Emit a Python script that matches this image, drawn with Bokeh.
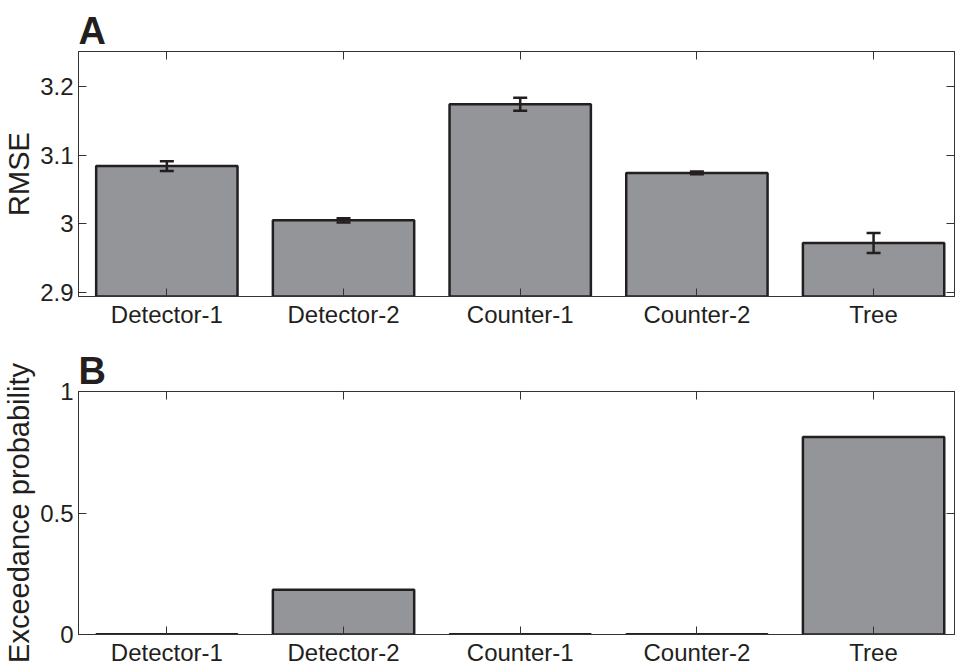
from bokeh.plotting import figure
from bokeh.models import (ColumnDataSource, Range1d, FixedTicker, LinearAxis,
                          Whisker, TeeHead)
from bokeh.layouts import column
from bokeh.embed import file_html
from bokeh.resources import INLINE

categories = ["Detector-1", "Detector-2", "Counter-1", "Counter-2", "Tree"]
rmse = [3.084, 3.005, 3.174, 3.074, 2.972]
rmse_err = [0.007, 0.003, 0.0095, 0.002, 0.0145]
exceedance = [0.0015, 0.184, 0.0015, 0.0015, 0.813]
rmse_ticks = [2.9, 3.0, 3.1, 3.2]
rmse_tick_labels = ["2.9", "3", "3.1", "3.2"]
exc_ticks = [0, 0.5, 1]
exc_tick_labels = ["0", "0.5", "1"]

FONT = "Liberation Sans"
DARK = "#231f20"
FILL = "#939598"
AXC = "#333333"

xpos = list(range(1, len(categories) + 1))


def plain_axis(ticks):
    return LinearAxis(ticker=FixedTicker(ticks=ticks),
                      major_label_overrides={t: "" for t in ticks},
                      major_label_text_font_size="1px", major_label_standoff=0,
                      major_tick_in=8, major_tick_out=0, minor_tick_line_color=None,
                      axis_line_color=AXC, major_tick_line_color=AXC)


def style_axes(p, yticks, ylabels, ylabel, panel_letter):
    p.xaxis.ticker = FixedTicker(ticks=xpos)
    p.xaxis.major_label_overrides = {x: c for x, c in zip(xpos, categories)}
    p.yaxis.ticker = FixedTicker(ticks=yticks)
    p.yaxis.major_label_overrides = {t: l for t, l in zip(yticks, ylabels)}
    for ax in (p.xaxis[0], p.yaxis[0]):
        ax.major_tick_in = 8
        ax.major_tick_out = 0
        ax.minor_tick_line_color = None
        ax.axis_line_color = AXC
        ax.major_tick_line_color = AXC
        ax.major_label_text_font = FONT
        ax.major_label_text_font_size = "24px"
        ax.major_label_text_color = DARK
    p.xaxis.major_label_standoff = 4
    p.yaxis.major_label_standoff = 5
    p.yaxis.axis_label = ylabel
    p.yaxis.axis_label_text_font = FONT
    p.yaxis.axis_label_text_font_size = "29px"
    p.yaxis.axis_label_text_font_style = "normal"
    p.yaxis.axis_label_text_color = DARK
    p.yaxis.axis_label_standoff = 2
    p.add_layout(plain_axis(xpos), "above")
    p.add_layout(plain_axis(yticks), "right")
    p.xgrid.grid_line_color = None
    p.ygrid.grid_line_color = None
    p.outline_line_color = AXC
    p.title.text = panel_letter
    p.title.align = "left"
    p.title.text_font = FONT
    p.title.text_font_size = "38px"
    p.title.text_font_style = "bold"
    p.title.text_color = DARK
    p.title.standoff = 0
    p.title.offset = 0


XR = (0.5, 5.458)

# Panel A
srcA = ColumnDataSource(dict(x=xpos, top=rmse,
                             upper=[v + e for v, e in zip(rmse, rmse_err)],
                             lower=[v - e for v, e in zip(rmse, rmse_err)]))
pA = figure(width=955, height=340, output_backend="svg", toolbar_location=None,
            x_range=Range1d(*XR), y_range=Range1d(2.894, 3.251),
            min_border_left=73, min_border_top=51, min_border_bottom=44, min_border_right=1)
pA.vbar(x="x", top="top", bottom=2.894, width=0.8, source=srcA,
        fill_color=FILL, line_color=DARK, line_width=2.5)
pA.add_layout(Whisker(base="x", upper="upper", lower="lower", source=srcA,
                      line_color=DARK, line_width=2.5, level="annotation",
                      upper_head=TeeHead(size=14, line_color=DARK, line_width=2.5),
                      lower_head=TeeHead(size=14, line_color=DARK, line_width=2.5)))
style_axes(pA, rmse_ticks, rmse_tick_labels, "RMSE", "A")

# Panel B
srcB = ColumnDataSource(dict(x=xpos, top=exceedance))
pB = figure(width=955, height=328, output_backend="svg", toolbar_location=None,
            x_range=Range1d(*XR), y_range=Range1d(0, 1),
            min_border_left=73, min_border_top=51, min_border_bottom=33, min_border_right=1)
pB.vbar(x="x", top="top", bottom=0, width=0.8, source=srcB,
        fill_color=FILL, line_color=DARK, line_width=2.5)
style_axes(pB, exc_ticks, exc_tick_labels, "Exceedance probability", "B")

layout = column(pA, pB, spacing=0)
open("out.html", "w").write(file_html(layout, INLINE))
